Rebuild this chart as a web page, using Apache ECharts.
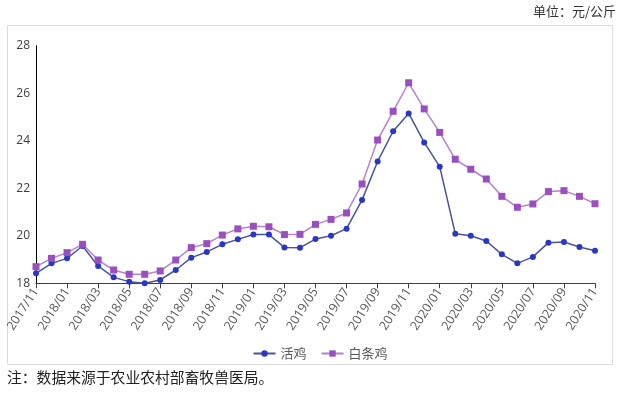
<!DOCTYPE html>
<html><head><meta charset="utf-8">
<script src="https://cdn.jsdelivr.net/npm/echarts@6/dist/echarts.min.js"></script>
<style>html,body{margin:0;padding:0;background:#fff}#c{width:640px;height:393px}</style>
</head><body><div id="c"></div>
<script>
const months = ["2017/11","2017/12","2018/01","2018/02","2018/03","2018/04","2018/05","2018/06","2018/07","2018/08","2018/09","2018/10","2018/11","2018/12","2019/01","2019/02","2019/03","2019/04","2019/05","2019/06","2019/07","2019/08","2019/09","2019/10","2019/11","2019/12","2020/01","2020/02","2020/03","2020/04","2020/05","2020/06","2020/07","2020/08","2020/09","2020/10","2020/11"];
const liveChicken = [18.42,18.84,19.05,19.57,18.73,18.25,18.07,18.0,18.14,18.56,19.08,19.32,19.64,19.85,20.05,20.05,19.51,19.5,19.86,20.0,20.3,21.51,23.13,24.4,25.15,23.93,22.91,20.09,20.0,19.78,19.22,18.84,19.11,19.71,19.74,19.53,19.37];
const whiteChicken = [18.7,19.05,19.29,19.64,18.98,18.56,18.38,18.38,18.52,18.98,19.5,19.67,20.03,20.29,20.4,20.38,20.05,20.06,20.48,20.69,20.96,22.18,24.03,25.24,26.44,25.34,24.35,23.22,22.8,22.39,21.66,21.2,21.34,21.86,21.9,21.66,21.35];
const seriesNames = ["活鸡","白条鸡"];
const unitText = "单位：元/公斤";
const noteText = "注：数据来源于农业农村部畜牧兽医局。";

const chart = echarts.init(document.getElementById('c'), null, {renderer:'canvas'});
chart.setOption({
  backgroundColor:'#fff',
  animation:false,
  textStyle:{fontFamily:'"Noto Sans CJK SC", "Noto Sans", sans-serif'},
  graphic:[
    {type:'rect', shape:{x:7.5,y:25.5,width:605,height:339}, style:{fill:'none', stroke:'#dcdcdc', lineWidth:1}, z:-1},
    {type:'text', left:533, top:5, style:{text:unitText, fontSize:13, fill:'#333', fontFamily:'"Noto Sans CJK SC", sans-serif'}},
    {type:'text', left:7, top:370, style:{text:noteText, fontSize:14.8, fill:'#222', fontFamily:'"Noto Sans CJK SC", sans-serif'}}
  ],
  legend:{
    data:seriesNames, left:'center', top:342, itemWidth:22, itemHeight:8, itemGap:14,
    textStyle:{color:'#595959', fontSize:13}
  },
  grid:{left:36, right:45, top:45.7, bottom:109.7, containLabel:false},
  xAxis:{
    type:'category', data:months, boundaryGap:false,
    axisLine:{lineStyle:{color:'#404040', width:1}},
    axisTick:{show:true, interval:1, length:5, lineStyle:{color:'#404040'}},
    axisLabel:{interval:1, rotate:57, color:'#595959', fontSize:12.5, margin:6, fontFamily:'"Open Sans", "Noto Sans", sans-serif'},
    splitLine:{show:false}
  },
  yAxis:{
    type:'value', min:18, max:28, interval:2,
    axisLine:{show:true, lineStyle:{color:'#000', width:1}},
    axisTick:{show:false},
    axisLabel:{color:'#404040', fontSize:12, margin:6, fontFamily:'"Open Sans", "Noto Sans", sans-serif'},
    splitLine:{show:false}
  },
  series:[
    {name:seriesNames[0], type:'line', data:liveChicken, symbol:'circle', symbolSize:6,
      lineStyle:{color:'#4a5596', width:1.5}, itemStyle:{color:'#2a36c4'}},
    {name:seriesNames[1], type:'line', data:whiteChicken, symbol:'rect', symbolSize:7,
      lineStyle:{color:'#b582c9', width:1.5}, itemStyle:{color:'#9a4fbf'}}
  ]
});
</script></body></html>
